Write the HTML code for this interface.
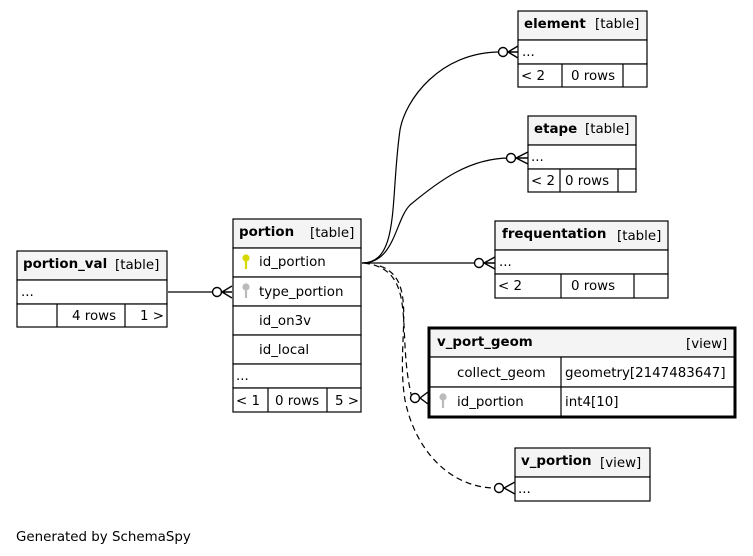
<!DOCTYPE html>
<html><head><meta charset="utf-8"><style>
body{margin:0;background:#fff}
svg{display:block}
text{font-family:"DejaVu Sans","Liberation Sans",sans-serif;font-size:13.4px;fill:#000}
.b{font-weight:bold}
</style></head><body>
<svg width="753" height="556" viewBox="0 0 753 556" xmlns="http://www.w3.org/2000/svg">
<g fill="none" stroke="#000" stroke-width="1.2">
<path d="M168,292 H214"/>
<path d="M362,263 C400,263 390,200 400,130 C405,100 440,52 500,52"/>
<path d="M362,263 C395,263 395,220 410,205 C440,180 470,158 510,158"/>
<path d="M362,263 H476"/>
<path d="M364,263 C420,270 395,330 412,398" stroke-dasharray="6,4"/>
<path d="M380,266 C420,280 395,340 405,400 C415,450 450,488 496,488" stroke-dasharray="6,4"/>
</g>
<g fill="#fff" stroke="#000" stroke-width="1.4">
<circle cx="217" cy="292" r="4.5"/><path d="M232,286 L222,292 L232,298 M222,292 H232"/>
<circle cx="503" cy="52" r="4.5"/><path d="M518,46 L508,52 L518,58 M508,52H518"/>
<circle cx="511" cy="158" r="4.5"/><path d="M528,152 L516,158 L528,164 M516,158H528"/>
<circle cx="479" cy="263" r="4.5"/><path d="M495,257 L484,263 L495,269 M484,263H495"/>
<circle cx="415" cy="398" r="4.5"/><path d="M428,392 L420,398 L428,404"/>
<circle cx="499" cy="488" r="4.5"/><path d="M515,482 L504,488 L515,494"/>
</g>
<g stroke="#000" stroke-width="1.2">
<rect x="518" y="11" width="129" height="29" fill="#f4f4f4"/>
<rect x="518" y="40" width="129" height="24" fill="#fff"/>
<rect x="518" y="64" width="129" height="23" fill="#fff"/>
<line x1="562" y1="64" x2="562" y2="87"/><line x1="623" y1="64" x2="623" y2="87"/>
</g>
<text x="524" y="28" class="b">element</text><text x="595" y="28">[table]</text>
<text x="522" y="56">...</text><text x="521" y="80">&lt; 2</text><text x="571" y="80">0 rows</text>
<g stroke="#000" stroke-width="1.2">
<rect x="528" y="116" width="108" height="29" fill="#f4f4f4"/>
<rect x="528" y="145" width="108" height="24" fill="#fff"/>
<rect x="528" y="169" width="108" height="23" fill="#fff"/>
<line x1="560" y1="169" x2="560" y2="192"/><line x1="618" y1="169" x2="618" y2="192"/>
</g>
<text x="534" y="133" class="b">etape</text><text x="585" y="133">[table]</text>
<text x="531" y="161">...</text><text x="531" y="185">&lt; 2</text><text x="565" y="185">0 rows</text>
<g stroke="#000" stroke-width="1.2">
<rect x="495" y="221" width="173" height="29" fill="#f4f4f4"/>
<rect x="495" y="250" width="173" height="24" fill="#fff"/>
<rect x="495" y="274" width="173" height="24" fill="#fff"/>
<line x1="561" y1="274" x2="561" y2="298"/><line x1="634" y1="274" x2="634" y2="298"/>
</g>
<text x="502" y="238" class="b">frequentation</text><text x="617" y="240">[table]</text>
<text x="499" y="266">...</text><text x="498" y="290">&lt; 2</text><text x="571" y="290">0 rows</text>
<g stroke="#000" stroke-width="1.2">
<rect x="17" y="251" width="150" height="29" fill="#f4f4f4"/>
<rect x="17" y="280" width="150" height="24" fill="#fff"/>
<rect x="17" y="304" width="150" height="23" fill="#fff"/>
<line x1="57" y1="304" x2="57" y2="327"/><line x1="125" y1="304" x2="125" y2="327"/>
</g>
<text x="23" y="268" class="b">portion_val</text><text x="115" y="269">[table]</text>
<text x="21" y="296">...</text><text x="72" y="320">4 rows</text><text x="140" y="320">1 &gt;</text>
<g stroke="#000" stroke-width="1.2">
<rect x="233" y="219" width="128" height="29" fill="#f4f4f4"/>
<rect x="233" y="248" width="128" height="29" fill="#fff"/>
<rect x="233" y="277" width="128" height="29" fill="#fff"/>
<rect x="233" y="306" width="128" height="29" fill="#fff"/>
<rect x="233" y="335" width="128" height="29" fill="#fff"/>
<rect x="233" y="364" width="128" height="24" fill="#fff"/>
<rect x="233" y="388" width="128" height="24" fill="#fff"/>
<line x1="268" y1="388" x2="268" y2="412"/><line x1="327" y1="388" x2="327" y2="412"/>
</g>
<text x="239" y="236" class="b">portion</text><text x="310" y="237">[table]</text>
<g stroke-width="2.2" fill="none"><path d="M246,257 V269" stroke="#d8d800"/><circle cx="246" cy="258" r="2.5" stroke="#d8d800" fill="#d8d800"/>
<path d="M246,286 V298" stroke="#bbb"/><circle cx="246" cy="287" r="2.5" stroke="#bbb" fill="#bbb"/></g>
<text x="259" y="266">id_portion</text><text x="259" y="296">type_portion</text>
<text x="259" y="325">id_on3v</text><text x="259" y="354">id_local</text>
<text x="236" y="380">...</text><text x="236" y="405">&lt; 1</text><text x="275" y="405">0 rows</text><text x="335" y="405">5 &gt;</text>
<g stroke="#000">
<rect x="429" y="328" width="306" height="29" fill="#f4f4f4" stroke-width="1.2"/>
<rect x="429" y="357" width="306" height="30" fill="#fff" stroke-width="1.2"/>
<rect x="429" y="387" width="306" height="30" fill="#fff" stroke-width="1.2"/>
<line x1="561" y1="357" x2="561" y2="417" stroke-width="1.2"/>
<rect x="429" y="328" width="306" height="89" fill="none" stroke-width="3"/>
</g>
<text x="437" y="346" class="b">v_port_geom</text><text x="686" y="348">[view]</text>
<text x="457" y="377">collect_geom</text><text x="565" y="377">geometry[2147483647]</text>
<g stroke-width="2.2" fill="none"><path d="M443,396 V408" stroke="#bbb"/><circle cx="443" cy="397" r="2.5" stroke="#bbb" fill="#bbb"/></g>
<text x="457" y="406">id_portion</text><text x="565" y="406">int4[10]</text>
<g stroke="#000" stroke-width="1.2">
<rect x="515" y="448" width="135" height="29" fill="#f4f4f4"/>
<rect x="515" y="477" width="135" height="24" fill="#fff"/>
</g>
<text x="521" y="465" class="b">v_portion</text><text x="600" y="467">[view]</text>
<text x="518" y="493">...</text>
<text x="16" y="541">Generated by SchemaSpy</text>
</svg>
</body></html>
